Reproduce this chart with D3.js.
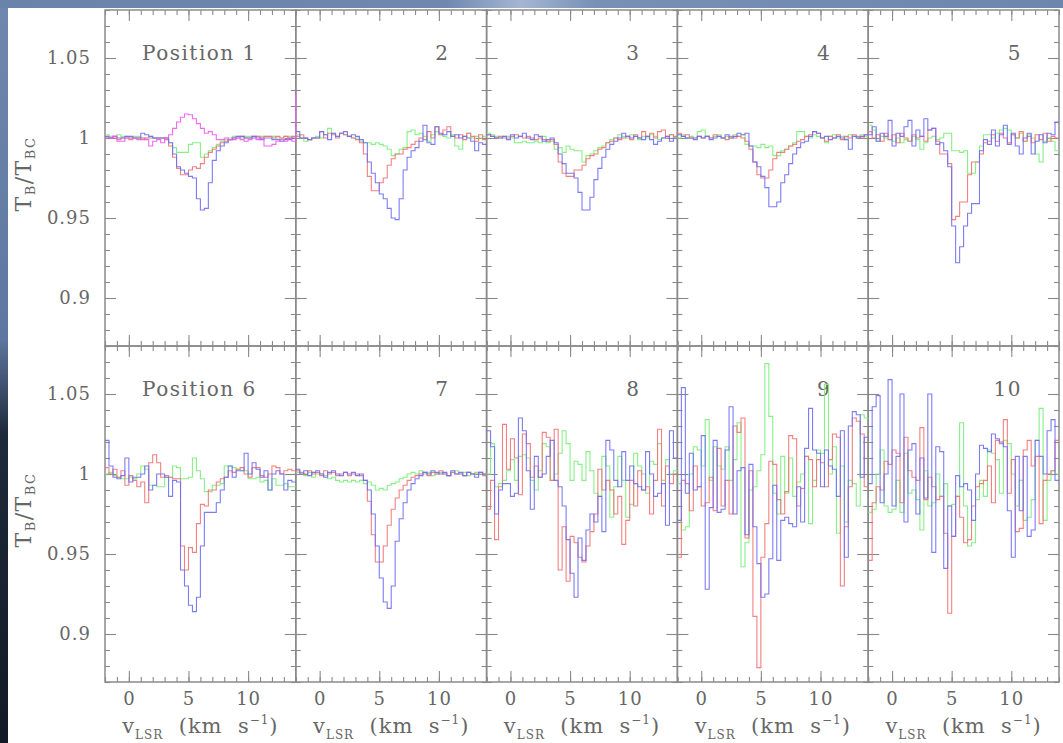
<!DOCTYPE html>
<meta charset="utf-8">
<style>
    body {
        margin: 0;
        overflow: hidden;
        background: #6f87ae;
    }
    svg { display: block; }
</style>
<svg id="canvas" width="1063" height="743"></svg>
<script src="https://d3js.org/d3.v7.min.js"></script>
<script>

    // channel left edges (km/s) and right edge of the last channel
    var velocity = [-2, -1.667, -1.333, -1, -0.667, -0.333, 0, 0.333, 0.667, 1, 1.333, 1.667,
                    2, 2.333, 2.667, 3, 3.333, 3.667, 4, 4.333, 4.667, 5, 5.333, 5.667,
                    6, 6.333, 6.667, 7, 7.333, 7.667, 8, 8.333, 8.667, 9, 9.333, 9.667,
                    10, 10.333, 10.667, 11, 11.333, 11.667, 12, 12.333, 12.667, 13, 13.333, 13.667];
    var velocityEnd = 14;

    var xMajorTicks = [0, 5, 10];
    var yMajorTicks = [0.9, 0.95, 1, 1.05];

    var panelLabels = ["Position 1", "2", "3", "4", "5", "Position 6", "7", "8", "9", "10"];

    // T_B / T_Bc spectra, one value per channel
    var p1Blue = [1.001,1.000,1.001,1.000,1.000,1.001,1.001,1.000,1.000,1.003,1.002,1.001,1.000,1.000,1.000,1.000,
                  0.997,0.990,0.982,0.980,0.978,0.976,0.975,0.962,0.955,0.956,0.972,0.986,0.992,0.995,0.997,0.999,
                  1.000,1.001,1.001,1.000,1.000,1.001,1.000,0.999,1.000,1.000,0.999,0.999,0.998,0.999,0.999,1.000];
    var p1Red = [1.000,1.000,1.000,0.999,1.000,1.000,0.999,1.000,1.000,0.999,1.000,1.000,1.000,1.000,1.000,0.999,
                 0.995,0.988,0.981,0.977,0.977,0.980,0.982,0.981,0.984,0.988,0.991,0.993,0.995,0.997,0.998,0.999,
                 1.000,1.000,1.001,1.000,1.000,1.001,1.001,1.000,1.001,1.001,1.000,1.001,1.000,1.001,1.000,1.001];
    var p1Green = [1.002,1.001,1.001,1.002,1.001,1.001,1.000,1.001,1.001,1.000,1.000,1.001,1.000,1.000,1.000,1.000,
                   0.997,0.994,0.991,0.991,0.991,0.996,0.997,0.997,0.988,0.990,0.992,0.994,0.996,0.998,0.999,1.000,
                   1.001,1.001,1.000,1.001,1.001,1.000,1.001,1.001,1.001,1.001,1.001,1.000,1.000,1.001,1.001,1.001];
    var p1Magenta = [1.000,1.000,1.001,0.998,0.998,1.000,1.000,1.000,0.999,1.000,0.999,0.995,0.998,0.999,0.997,1.000,
                     1.002,1.006,1.010,1.013,1.015,1.0145,1.012,1.009,1.006,1.003,1.004,1.002,0.999,0.999,1.000,0.999,
                     0.999,1.000,0.999,0.998,0.999,1.000,0.999,1.000,0.995,0.995,0.996,0.998,0.999,0.998,1.000,0.998];
    var p1MagentaEdge = 1.028;

    var p2Blue = [1.004,1.000,1.000,0.999,1.000,1.000,1.004,1.002,0.999,1.003,1.001,1.003,1.004,1.001,1.002,1.001,
                  0.999,0.997,0.985,0.978,0.972,0.965,0.962,0.956,0.950,0.949,0.962,0.980,0.988,0.992,0.994,0.998,
                  1.008,0.997,0.996,1.007,1.003,1.002,1.004,1.001,1.002,1.000,1.001,1.000,0.998,0.992,0.997,0.996];
    var p2Red = [1.001,1.002,1.000,0.999,1.000,1.000,1.004,1.000,1.003,1.002,1.000,1.003,1.002,1.001,1.000,0.999,
                 0.997,0.990,0.976,0.967,0.967,0.972,0.975,0.983,0.987,0.990,0.990,0.993,0.994,0.996,0.998,1.000,
                 0.999,1.004,1.000,1.007,1.002,1.005,1.007,1.001,1.000,1.002,0.999,1.003,1.001,0.998,1.002,0.999];
    var p2Green = [1.002,1.000,0.998,0.999,1.000,1.001,1.000,1.002,1.006,1.003,1.001,1.003,1.002,1.001,1.000,1.000,
                   0.998,0.997,0.997,0.996,0.997,0.996,0.995,0.993,0.989,0.990,0.993,0.994,1.004,1.005,1.002,1.003,
                   1.001,0.998,1.002,1.004,1.002,1.001,1.000,1.002,0.995,0.993,1.001,1.003,1.000,1.001,1.000,1.001];

    var p3Blue = [1.002,1.001,1.000,1.000,1.001,0.999,1.002,1.000,1.001,1.003,1.000,0.999,1.002,1.001,0.998,0.999,
                  1.000,0.997,0.990,0.984,0.978,0.978,0.975,0.966,0.955,0.955,0.963,0.974,0.981,0.988,0.993,0.996,
                  0.998,1.000,1.003,1.001,1.000,1.001,1.000,0.999,1.001,0.999,0.996,0.998,1.000,1.001,0.998,1.000];
    var p3Red = [1.002,1.001,1.000,1.001,1.000,1.000,1.001,1.002,1.001,1.000,1.001,1.000,0.999,1.000,0.999,0.998,
                 0.999,0.996,0.985,0.978,0.976,0.976,0.980,0.980,0.983,0.987,0.989,0.990,0.993,0.994,0.997,0.998,
                 1.000,0.999,1.000,1.001,0.999,1.002,1.000,1.004,1.001,1.003,1.000,1.004,1.005,1.000,1.002,1.001];
    var p3Green = [1.003,1.002,1.001,1.000,1.001,1.001,1.000,0.997,0.997,0.998,0.997,0.997,0.998,0.997,1.001,0.997,
                   0.998,0.993,0.994,0.991,0.995,0.993,0.992,0.992,0.985,0.989,0.990,0.992,0.994,0.995,0.997,0.999,
                   1.000,1.002,1.001,1.000,1.002,1.001,0.999,1.001,1.000,1.002,1.001,0.999,1.000,1.001,1.002,1.000];

    var p4Blue = [1.002,1.001,1.000,1.000,0.999,1.001,1.000,1.001,0.999,1.000,1.001,1.000,1.002,1.000,1.001,1.003,
                  1.002,1.003,0.995,0.985,0.982,0.976,0.969,0.957,0.957,0.960,0.972,0.977,0.984,0.990,0.994,0.997,
                  0.998,1.001,1.004,1.003,1.000,1.001,0.999,1.000,1.001,1.000,0.999,0.993,1.001,1.000,1.001,1.002];
    var p4Red = [1.003,1.001,1.002,1.000,1.000,1.001,1.000,1.001,1.000,1.002,1.001,1.000,0.999,1.001,1.000,1.001,
                 1.000,0.998,0.993,0.985,0.977,0.975,0.975,0.980,0.987,0.991,0.991,0.993,0.995,0.996,0.998,0.999,
                 1.001,1.002,1.004,1.003,1.000,0.998,1.001,1.000,1.002,0.999,1.001,1.000,1.002,1.001,1.000,1.002];
    var p4Green = [1.000,1.002,1.000,1.001,1.000,1.004,1.005,1.001,1.000,1.001,1.002,1.000,1.001,1.000,1.002,1.001,
                   1.002,0.996,0.995,0.995,0.994,0.996,0.994,0.995,0.989,0.989,0.992,0.993,0.995,0.997,1.004,1.004,
                   1.001,1.000,1.002,1.001,1.000,0.997,1.001,1.002,1.000,1.001,1.000,1.002,1.001,1.000,1.002,1.001];

    var p5Blue = [1.002,1.007,0.998,1.003,1.001,1.011,0.995,1.003,1.001,1.007,1.011,0.995,1.005,1.001,1.012,1.005,
                  1.006,0.996,0.997,0.992,0.982,0.945,0.922,0.932,0.945,0.953,0.959,0.959,0.992,0.999,0.996,1.005,
                  0.995,1.002,1.008,0.996,1.003,0.995,0.990,1.000,1.003,0.990,0.998,1.002,0.997,1.003,1.002,1.010];
    var p5Red = [1.004,1.000,1.002,0.998,1.003,0.999,1.002,0.997,1.003,1.000,0.998,1.002,1.000,1.001,0.998,1.005,
                 1.006,0.998,0.990,0.990,0.984,0.949,0.951,0.960,0.960,0.977,0.985,0.985,0.990,0.997,0.998,1.002,
                 0.998,1.003,1.000,0.997,1.002,1.000,1.004,0.998,1.001,0.997,1.002,0.999,1.003,0.998,1.001,1.000];
    var p5Green = [1.008,1.005,0.998,1.001,1.000,0.999,0.998,1.000,0.997,0.999,0.998,1.001,0.999,0.993,0.997,1.000,
                   1.001,0.999,1.000,1.003,1.003,0.992,0.992,0.991,0.992,0.978,0.978,0.985,0.995,1.002,1.002,1.000,
                   1.003,1.005,1.006,1.005,1.002,1.000,1.003,0.998,1.002,1.000,0.990,0.985,0.998,1.000,0.998,0.992];

    var p6Blue = [1.021,1.005,0.998,0.997,0.999,1.010,0.995,0.998,0.998,1.000,1.005,0.990,0.993,1.000,1.000,0.998,
                  0.986,0.996,0.995,0.940,0.930,0.918,0.914,0.923,0.955,0.976,0.976,0.976,0.982,0.990,0.998,1.005,
                  0.998,1.002,1.002,1.013,1.000,1.007,1.003,0.998,1.002,0.990,1.000,1.002,1.000,0.990,0.996,0.995];
    var p6Red = [1.004,1.000,1.003,0.998,1.002,0.993,0.999,0.996,0.992,0.995,0.982,1.007,1.012,1.007,0.998,0.999,
                 0.998,0.997,0.997,0.955,0.940,0.954,0.951,0.969,0.981,0.980,0.990,0.990,0.995,0.997,0.998,1.002,
                 1.001,1.003,1.004,1.000,0.998,1.004,1.004,0.999,0.998,1.000,1.005,1.004,1.000,1.002,1.003,1.002];
    var p6Green = [1.000,1.001,0.999,0.998,0.997,0.997,0.998,0.997,1.000,1.005,1.003,0.993,0.993,0.992,0.992,0.998,
                   0.998,1.005,1.004,0.997,0.997,0.998,1.010,1.002,0.997,0.989,0.989,0.993,0.993,0.994,1.005,1.005,
                   1.004,1.003,1.002,1.002,0.997,0.997,0.998,0.995,0.996,0.990,0.997,0.993,0.993,0.994,0.992,0.992];

    var p7Blue = [1.003,1.000,1.002,0.999,1.001,1.002,1.000,0.998,1.001,1.002,1.000,0.999,1.001,1.000,1.001,0.999,
                  1.000,0.996,0.990,0.975,0.955,0.935,0.920,0.916,0.930,0.958,0.972,0.982,0.990,0.994,0.997,0.999,
                  1.001,1.000,1.002,1.001,1.000,1.001,0.999,1.002,1.000,1.001,0.999,1.001,1.000,0.998,1.001,1.000];
    var p7Red = [1.002,1.001,1.000,1.002,1.000,1.001,0.999,1.002,1.000,1.001,0.999,1.000,1.001,0.999,1.000,1.000,
                 0.999,0.996,0.983,0.962,0.945,0.945,0.955,0.968,0.978,0.985,0.990,0.993,0.996,0.998,0.999,1.000,
                 1.001,0.999,1.001,1.000,1.002,1.000,0.999,1.001,1.000,1.000,0.999,1.001,1.000,1.000,1.001,0.999];
    var p7Green = [1.001,1.000,0.999,1.001,0.998,1.000,1.000,0.999,0.997,0.998,0.996,0.995,0.996,0.995,0.996,0.995,
                   0.996,0.994,0.995,0.993,0.990,0.991,0.990,0.993,0.994,0.995,0.997,0.998,1.000,1.001,1.000,1.002,
                   1.000,1.001,0.999,1.000,1.001,1.000,0.999,1.001,1.002,1.000,1.001,0.999,1.000,1.001,1.000,1.000];

    var p8Blue = [1.027,1.017,0.975,0.990,0.994,0.994,0.986,0.988,1.035,1.027,1.002,0.978,1.011,0.998,1.000,1.011,
                  1.021,0.996,0.992,0.980,0.959,0.938,0.923,0.960,0.946,0.965,0.975,0.970,0.986,0.964,1.021,1.015,
                  0.996,0.992,1.014,0.996,1.005,0.994,0.992,0.990,1.014,1.000,0.986,0.988,0.994,0.968,1.027,1.010];
    var p8Red = [0.978,0.996,0.959,0.992,1.031,1.003,1.022,1.010,0.987,1.025,1.019,0.998,1.005,0.998,1.026,1.023,
                 0.996,1.028,0.940,0.967,0.933,0.961,0.957,0.948,0.945,0.955,0.964,0.975,1.003,0.990,0.996,0.990,
                 0.975,0.986,0.956,0.971,0.996,0.980,1.002,0.990,0.992,0.975,0.996,1.028,0.980,1.005,0.994,1.000];
    var p8Green = [1.000,1.019,0.992,0.994,0.996,1.002,1.009,0.996,1.011,1.012,1.010,0.996,0.990,1.002,1.019,1.017,
                   0.996,1.000,1.013,1.027,1.019,0.996,1.008,1.006,0.996,1.014,1.002,0.988,0.986,1.011,1.005,0.973,
                   0.992,1.011,0.996,0.973,0.981,1.013,1.005,1.000,0.988,1.008,1.006,1.019,0.996,1.009,1.000,1.002];

    var p9Blue = [0.971,1.054,0.988,1.013,0.990,0.992,1.024,0.928,0.979,1.021,0.976,0.978,1.015,1.042,0.975,1.002,
                  1.004,0.962,1.006,0.967,0.944,0.923,0.925,0.947,0.993,0.946,0.971,0.973,0.969,0.967,0.992,0.970,
                  1.016,1.041,1.015,1.013,0.992,1.015,1.005,1.003,0.986,1.027,0.948,1.030,1.039,1.037,0.998,1.023];
    var p9Red = [0.948,0.996,0.994,0.977,1.005,0.992,0.980,0.982,0.998,0.977,1.016,0.980,0.996,0.975,1.030,1.026,
                 1.035,0.960,1.002,0.911,0.879,0.948,0.969,1.008,1.006,0.984,0.975,0.989,1.024,1.022,0.980,0.991,
                 1.011,1.009,0.992,1.009,1.007,0.992,1.009,1.025,1.023,0.930,0.967,0.992,1.035,1.033,1.025,0.992];
    var p9Green = [0.994,0.965,0.967,1.000,1.017,1.015,1.005,1.034,0.996,1.017,1.005,1.003,1.017,0.996,1.009,1.032,
                   0.942,0.957,0.990,0.992,1.002,1.012,1.069,1.036,0.988,0.975,1.011,0.988,1.010,0.986,0.995,1.000,
                   1.011,0.969,0.996,1.015,1.013,1.056,1.000,1.017,0.963,1.005,0.970,0.996,0.994,0.980,1.037,1.035];

    var p10Blue = [0.994,1.042,1.049,0.982,1.000,1.059,0.980,1.011,1.050,0.970,1.015,1.019,0.975,1.010,0.985,1.050,
                   0.951,1.017,1.014,0.941,0.980,0.961,0.999,0.992,0.994,0.990,0.971,1.000,1.018,1.016,1.014,1.025,
                   1.022,1.020,1.017,0.977,0.948,1.011,0.977,1.011,0.961,0.965,1.021,1.011,1.000,1.027,1.034,0.996];
    var p10Red = [0.946,0.982,0.992,0.990,1.008,1.006,1.015,1.013,0.982,1.023,1.002,0.998,0.996,1.029,0.984,0.998,
                  0.992,0.984,0.986,0.963,0.913,0.961,0.986,0.973,0.957,0.959,0.980,0.992,0.994,0.996,1.005,0.982,
                  1.021,1.019,1.034,0.988,1.009,0.964,0.966,1.015,1.021,1.005,1.011,0.969,0.996,1.000,1.002,1.021];
    var p10Green = [0.976,0.978,1.000,1.015,0.980,0.976,0.978,0.996,0.976,1.013,0.988,0.990,0.984,0.965,1.002,0.980,
                    0.982,1.000,0.986,0.994,0.980,0.981,0.986,1.032,0.980,0.955,0.957,0.984,0.996,0.986,1.015,1.013,
                    1.009,0.988,1.021,1.019,1.000,0.980,0.996,0.971,0.973,0.984,1.021,1.041,0.971,0.996,1.002,1.000];

    var colors = { green: "#7aee7a", red: "#f27272", blue: "#6e6ef4", magenta: "#f25af2" };

    var panels = [
        [["green", p1Green], ["red", p1Red], ["blue", p1Blue], ["magenta", p1Magenta, p1MagentaEdge]],
        [["green", p2Green], ["red", p2Red], ["blue", p2Blue]],
        [["green", p3Green], ["red", p3Red], ["blue", p3Blue]],
        [["green", p4Green], ["red", p4Red], ["blue", p4Blue]],
        [["green", p5Green], ["red", p5Red], ["blue", p5Blue]],
        [["green", p6Green], ["red", p6Red], ["blue", p6Blue]],
        [["green", p7Green], ["red", p7Red], ["blue", p7Blue]],
        [["green", p8Green], ["red", p8Red], ["blue", p8Blue]],
        [["green", p9Green], ["red", p9Red], ["blue", p9Blue]],
        [["green", p10Green], ["red", p10Red], ["blue", p10Blue]]
    ];

    var svg = d3.select("#canvas");
    var font = "'DejaVu Serif', serif";
    var textColor = "#666";
    var frameColor = "#8a8a8a";

    var plotLeft = 105, plotTop = 10, pw = (1059 - 105) / 5, ph = 336;

    var x = d3.scaleLinear().domain([-2, 14]).range([0, pw]);
    var y = d3.scaleLinear().domain([0.87, 1.08]).range([ph, 0]);

    // slide background
    var defs = svg.append("defs");
    var lg = defs.append("linearGradient").attr("id", "leftfade").attr("x1", 0).attr("y1", 0).attr("x2", 0).attr("y2", 1);
    lg.append("stop").attr("offset", "0").attr("stop-color", "#6f87ae");
    lg.append("stop").attr("offset", "0.45").attr("stop-color", "#5e77a0");
    lg.append("stop").attr("offset", "0.58").attr("stop-color", "#1e2a3a");
    lg.append("stop").attr("offset", "1").attr("stop-color", "#121a26");
    var tg = defs.append("linearGradient").attr("id", "topstreak").attr("x1", 0).attr("y1", 0).attr("x2", 1).attr("y2", 0);
    tg.append("stop").attr("offset", "0").attr("stop-color", "#6a83ab");
    tg.append("stop").attr("offset", "0.42").attr("stop-color", "#7088b0");
    tg.append("stop").attr("offset", "0.49").attr("stop-color", "#a4b6d2");
    tg.append("stop").attr("offset", "0.56").attr("stop-color", "#7890b6");
    tg.append("stop").attr("offset", "1").attr("stop-color", "#6d86ae");

    svg.append("rect").attr("width", 1063).attr("height", 8).attr("fill", "url(#topstreak)");
    svg.append("rect").attr("y", 8).attr("width", 8).attr("height", 735).attr("fill", "url(#leftfade)");
    svg.append("rect").attr("x", 8).attr("y", 8).attr("width", 1055).attr("height", 735).attr("fill", "#fff");

    var line = d3.line()
        .x(function(d) { return x(d[0]); })
        .y(function(d) { return y(d[1]); })
        .curve(d3.curveStepAfter);

    function stepPoints(values, edgeValue) {
        var pts = velocity.map(function(v, i) { return [v, values[i]]; });
        pts.push([velocityEnd, edgeValue === undefined ? values[values.length - 1] : edgeValue]);
        return pts;
    }

    function styleAxis(g) {
        g.select(".domain").remove();
        g.selectAll(".tick line").attr("stroke", frameColor).attr("stroke-width", 1.1);
        g.attr("font-family", font).attr("font-size", 18);
        g.selectAll(".tick text").attr("fill", textColor).attr("letter-spacing", "1px");
    }

    var yMinor = d3.range(87, 109).map(function(d) { return d / 100; });
    var xMinor = d3.range(-2, 15);

    function panelOrigin(p) {
        return [plotLeft + (p % 5) * pw, plotTop + Math.floor(p / 5) * ph];
    }

    // pass 1: frames, ticks and texts
    panels.forEach(function(series, p) {
        var row = Math.floor(p / 5), col = p % 5, o = panelOrigin(p);
        var g = svg.append("g").attr("transform", "translate(" + o[0] + "," + o[1] + ")");

        g.append("rect")
            .attr("width", pw).attr("height", ph)
            .attr("fill", "none")
            .attr("stroke", frameColor)
            .attr("stroke-width", 1.5);

        // ticks on all four sides, pointing inward
        g.append("g").call(d3.axisLeft(y).tickValues(yMinor).tickSize(-5).tickFormat("")).call(styleAxis);
        g.append("g").attr("transform", "translate(" + pw + ",0)")
            .call(d3.axisRight(y).tickValues(yMinor).tickSize(-5).tickFormat("")).call(styleAxis);
        g.append("g").attr("transform", "translate(" + pw + ",0)")
            .call(d3.axisRight(y).tickValues(yMajorTicks).tickSize(-11).tickFormat("")).call(styleAxis);
        g.append("g").call(d3.axisTop(x).tickValues(xMinor).tickSize(-5).tickFormat("")).call(styleAxis);
        g.append("g").call(d3.axisTop(x).tickValues(xMajorTicks).tickSize(-11).tickFormat("")).call(styleAxis);
        g.append("g").attr("transform", "translate(0," + ph + ")")
            .call(d3.axisBottom(x).tickValues(xMinor).tickSize(-5).tickFormat("")).call(styleAxis);

        g.append("g")
            .call(d3.axisLeft(y).tickValues(yMajorTicks).tickSize(-11).tickPadding(14)
                .tickFormat(function(d) { return col === 0 ? String(+d.toFixed(2)) : ""; }))
            .call(styleAxis);
        g.append("g").attr("transform", "translate(0," + ph + ")")
            .call(d3.axisBottom(x).tickValues(xMajorTicks).tickSize(-11).tickPadding(10)
                .tickFormat(function(d) { return row === 1 ? String(d) : ""; }))
            .call(styleAxis);

        var label = g.append("text")
            .attr("y", 50)
            .attr("font-family", font)
            .attr("font-size", 20)
            .attr("letter-spacing", "1.5px")
            .attr("fill", textColor)
            .text(panelLabels[p]);
        if (col === 0) label.attr("x", 37);
        else label.attr("x", pw - 37).attr("text-anchor", "end");

        if (row === 1) {
            var xt = svg.append("text")
                .attr("x", o[0] + pw / 2)
                .attr("y", 733)
                .attr("text-anchor", "middle")
                .attr("font-family", font)
                .attr("font-size", 21)
                .attr("letter-spacing", "1px")
                .attr("fill", textColor)
                .style("white-space", "pre");
            xt.append("tspan").text("v");
            xt.append("tspan").attr("dy", 6).attr("font-size", 12).text("LSR");
            xt.append("tspan").attr("dy", -6).text("  (km  s");
            xt.append("tspan").attr("dy", -9).attr("font-size", 12).text("\u22121");
            xt.append("tspan").attr("dy", 9).text(")");
        }
    });

    // pass 2: the spectra, on top of every frame
    panels.forEach(function(series, p) {
        var o = panelOrigin(p);
        defs.append("clipPath").attr("id", "clip" + p)
            .append("rect").attr("x", -1).attr("y", -1).attr("width", pw + 2).attr("height", ph + 2);

        var lines = svg.append("g")
            .attr("transform", "translate(" + o[0] + "," + o[1] + ")")
            .attr("clip-path", "url(#clip" + p + ")");
        series.forEach(function(s) {
            lines.append("path")
                .attr("d", line(stepPoints(s[1], s[2])))
                .attr("fill", "none")
                .attr("stroke", colors[s[0]])
                .attr("stroke-width", 1.1)
                .attr("stroke-opacity", 0.9);
        });
    });

    [0, 1].forEach(function(row) {
        var yt = svg.append("text")
            .attr("transform", "translate(31," + (plotTop + row * ph + ph / 2 - 4) + ") rotate(-90)")
            .attr("text-anchor", "middle")
            .attr("font-family", font)
            .attr("font-size", 22)
            .attr("letter-spacing", "1.5px")
            .attr("fill", textColor);
        yt.append("tspan").text("T");
        yt.append("tspan").attr("dy", 4).attr("font-size", 13).text("B");
        yt.append("tspan").attr("dy", -4).text("/T");
        yt.append("tspan").attr("dy", 4).attr("font-size", 13).text("BC");
    });

</script>
